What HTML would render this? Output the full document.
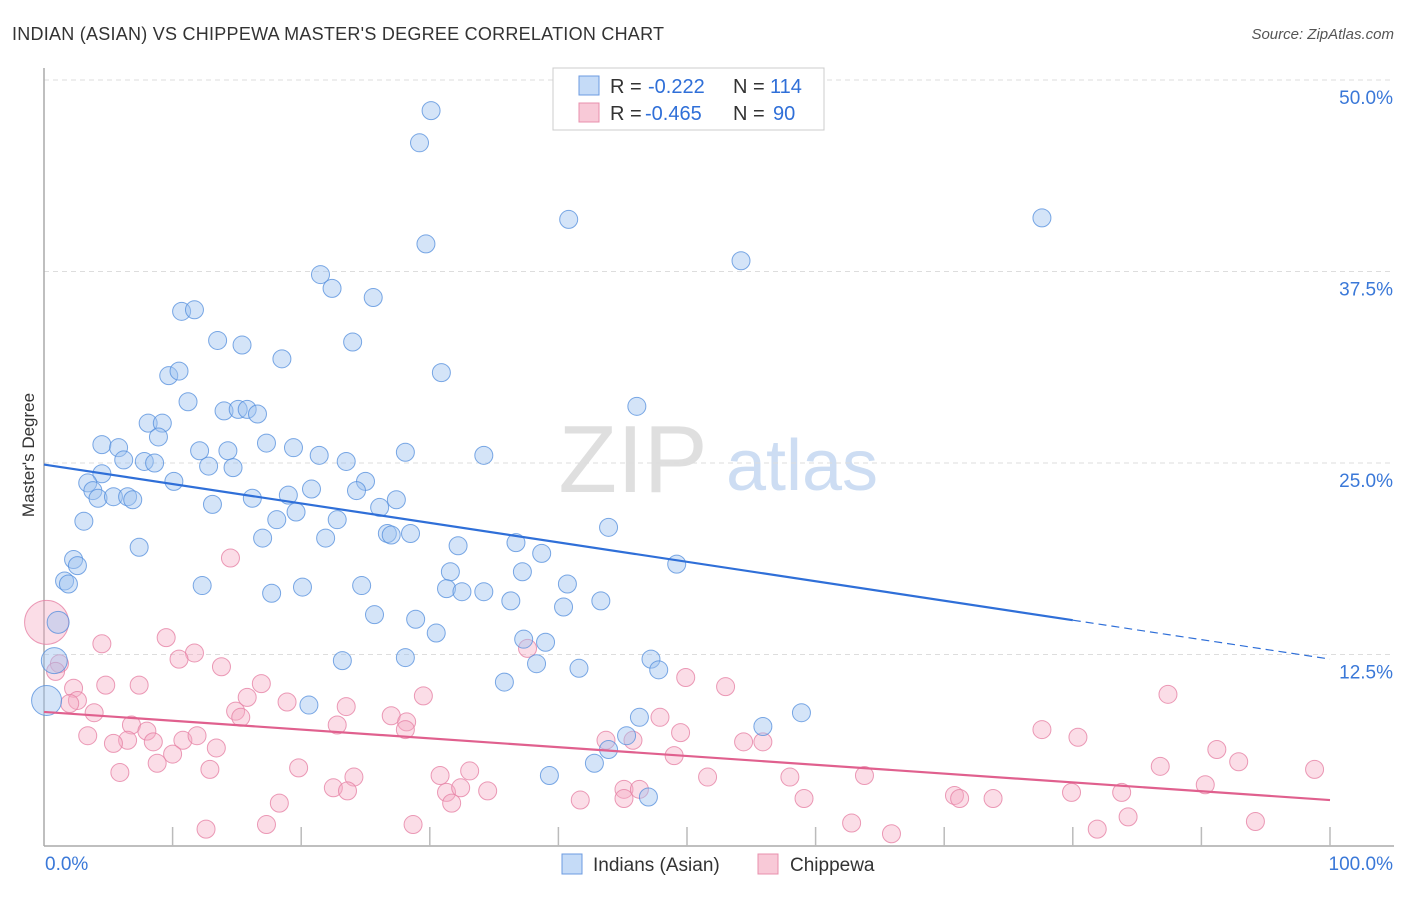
<!DOCTYPE html>
<html><head><meta charset="utf-8"><style>
body{margin:0;background:#fff;font-family:"Liberation Sans",sans-serif;}
svg text{font-family:"Liberation Sans",sans-serif;}
</style></head><body>
<svg id="c" width="1406" height="892" xmlns="http://www.w3.org/2000/svg">
<text x="12" y="40" font-size="18" fill="#333" textLength="652">INDIAN (ASIAN) VS CHIPPEWA MASTER'S DEGREE CORRELATION CHART</text>
<text x="1394" y="39" font-size="15" fill="#555" font-style="italic" text-anchor="end">Source: ZipAtlas.com</text>
<text transform="translate(34,455) rotate(-90)" font-size="17" fill="#333" text-anchor="middle">Master's Degree</text>
<g>
<text x="633" y="492" font-size="96" fill="#d8d8d8" font-family="Liberation Serif" text-anchor="middle" opacity="0.8">ZIP</text>
<text x="802" y="490" font-size="72" fill="#b8d0ee" text-anchor="middle" opacity="0.7">atlas</text>
</g>
<g id="grid"></g><g id="axes"></g><g id="pts"></g><g id="trend"></g>
<g>
<rect x="553" y="68" width="271" height="62" fill="#fff" stroke="#ccc"/>
<rect x="579" y="76" width="20" height="19" fill="#c5dbf7" stroke="#6c9be0"/>
<text x="610" y="93" font-size="20" fill="#333">R =</text>
<text x="648" y="93" font-size="20" fill="#2f6fd8">-0.222</text>
<text x="733" y="93" font-size="20" fill="#333">N =</text>
<text x="770" y="93" font-size="20" fill="#2f6fd8">114</text>
<rect x="579" y="103" width="20" height="19" fill="#f8c9d7" stroke="#e890ac"/>
<text x="610" y="120" font-size="20" fill="#333">R =</text>
<text x="645" y="120" font-size="20" fill="#2f6fd8">-0.465</text>
<text x="733" y="120" font-size="20" fill="#333">N =</text>
<text x="773" y="120" font-size="20" fill="#2f6fd8">90</text>
</g>
<g>
<rect x="562" y="854" width="20" height="20" fill="#c5dbf7" stroke="#6c9be0"/>
<text x="593" y="871" font-size="19" fill="#333">Indians (Asian)</text>
<rect x="758" y="854" width="20" height="20" fill="#f8c9d7" stroke="#e890ac"/>
<text x="790" y="871" font-size="19" fill="#333">Chippewa</text>
</g>
</svg>
<script>
const yTicks=[12.5,25,37.5,50];
const yTickLabels=["12.5%","25.0%","37.5%","50.0%"];
const xTicks=[0,10,20,30,40,50,60,70,80,90,100];
const blueX=[30.1,29.2,40.8,77.6,29.7,54.2,21.5,22.4,25.6,10.7,11.7,13.5,15.4,24.0,18.5,9.7,10.5,30.9,11.2,46.1,14.0,15.1,15.8,16.6,8.1,9.2,8.9,4.5,5.8,17.3,12.1,14.3,19.4,28.1,34.2,21.4,6.2,7.8,8.6,23.5,12.8,14.7,4.5,10.1,25.0,3.4,3.8,20.8,24.3,4.2,5.4,6.5,6.9,16.2,19.0,27.4,13.1,26.1,19.6,3.1,18.1,22.8,43.9,26.7,27.0,28.5,17.0,21.9,32.2,36.7,7.4,38.7,2.3,2.6,49.2,31.6,37.2,1.6,1.9,40.7,12.3,20.1,24.7,31.3,32.5,34.2,17.7,36.3,43.3,40.4,25.7,28.9,1.1,30.5,37.3,39.0,0.8,23.2,28.1,47.2,38.3,41.6,47.8,35.8,0.2,20.6,58.9,46.3,55.9,45.3,43.9,42.8,39.3,47.0];
const blueY=[48.0,45.9,40.9,41.0,39.3,38.2,37.3,36.4,35.8,34.9,35.0,33.0,32.7,32.9,31.8,30.7,31.0,30.9,29.0,28.7,28.4,28.5,28.5,28.2,27.6,27.6,26.7,26.2,26.0,26.3,25.8,25.8,26.0,25.7,25.5,25.5,25.2,25.1,25.0,25.1,24.8,24.7,24.3,23.8,23.8,23.7,23.2,23.3,23.2,22.7,22.8,22.8,22.6,22.7,22.9,22.6,22.3,22.1,21.8,21.2,21.3,21.3,20.8,20.4,20.3,20.4,20.1,20.1,19.6,19.8,19.5,19.1,18.7,18.3,18.4,17.9,17.9,17.3,17.1,17.1,17.0,16.9,17.0,16.8,16.6,16.6,16.5,16.0,16.0,15.6,15.1,14.8,14.6,13.9,13.5,13.3,12.1,12.1,12.3,12.2,11.9,11.6,11.5,10.7,9.5,9.2,8.7,8.4,7.8,7.2,6.3,5.4,4.6,3.2];
const pinkX=[0.2,1.2,0.9,4.5,9.5,14.5,11.7,10.5,13.8,2.3,4.8,7.4,16.9,2.6,2.0,3.9,15.8,18.9,23.5,29.5,49.9,53.0,87.4,37.6,14.9,15.3,27.0,28.2,28.1,22.8,47.9,6.8,8.0,3.4,49.5,77.6,10.8,11.9,6.5,5.4,8.5,43.7,54.4,55.9,80.4,45.8,13.4,10.0,49.0,91.2,92.9,8.8,19.8,12.9,5.9,86.8,98.8,24.1,30.8,33.1,51.6,58.0,63.8,90.3,22.5,23.6,31.3,32.4,34.5,45.1,46.3,79.9,83.8,70.8,71.2,73.8,18.3,31.7,41.7,45.1,59.1,84.3,62.8,94.2,17.3,28.7,12.6,65.9,81.9];
const pinkY=[14.6,11.9,11.4,13.2,13.6,18.8,12.6,12.2,11.7,10.3,10.5,10.5,10.6,9.5,9.3,8.7,9.7,9.4,9.1,9.8,11.0,10.4,9.9,12.9,8.8,8.4,8.5,8.1,7.6,7.9,8.4,7.9,7.5,7.2,7.4,7.6,6.9,7.2,6.9,6.7,6.8,6.9,6.8,6.8,7.1,6.9,6.4,6.0,5.9,6.3,5.5,5.4,5.1,5.0,4.8,5.2,5.0,4.5,4.6,4.9,4.5,4.5,4.6,4.0,3.8,3.6,3.5,3.8,3.6,3.7,3.7,3.5,3.5,3.3,3.1,3.1,2.8,2.8,3.0,3.1,3.1,1.9,1.5,1.6,1.4,1.4,1.1,0.8,1.1];
const blueTrend=[24.9,12.2];
const pinkTrend=[8.75,3.0];
const NS="http://www.w3.org/2000/svg";
const X0=44,X1=1330,YB=846,PX=15.32;
const sx=v=>X0+(X1-X0)*v/100;
const sy=v=>YB-v*PX;
function mk(tag,attrs,parent){const e=document.createElementNS(NS,tag);for(const k in attrs)e.setAttribute(k,attrs[k]);parent.appendChild(e);return e;}
const grid=document.getElementById('grid'),axes=document.getElementById('axes');
yTicks.forEach((t,i)=>{
 const l=mk('line',{x1:44,x2:1394,y1:sy(t),y2:sy(t),stroke:'#ddd','stroke-dasharray':'5,4'},grid);
 
 
 const tx=mk('text',{x:1393,y:sy(t)+24,'font-size':19,fill:'#3a78d8','text-anchor':'end'},grid);
 tx.textContent=yTickLabels[i];
 
 
});
const ya=mk('line',{x1:44,x2:44,y1:68,y2:YB,stroke:'#aaa','stroke-width':1.5},axes);


const xa=mk('line',{x1:44,x2:1394,y1:YB,y2:YB,stroke:'#aaa','stroke-width':1.5},axes);


xTicks.forEach(t=>{if(t===0)return;const k=mk('line',{x1:sx(t),x2:sx(t),y1:YB-19,y2:YB,stroke:'#bbb','stroke-width':1.5},axes);
 
 });
const xl0=mk('text',{x:45,y:870,'font-size':19,fill:'#3a78d8'},axes);xl0.textContent='0.0%';


const xl1=mk('text',{x:1393,y:870,'font-size':19,fill:'#3a78d8','text-anchor':'end'},axes);xl1.textContent='100.0%';


const pts=document.getElementById('pts');
pinkX.forEach((x,i)=>{const r=(i===0)?22:9;
 const c=mk('circle',{cx:sx(x),cy:sy(pinkY[i]),r:r,fill:'rgba(244,170,195,0.4)',stroke:'rgba(230,130,165,0.8)','stroke-width':1},pts);
 
 });
blueX.forEach((x,i)=>{const r=(x<1.2&&blueY[i]<15)?(blueY[i]<10?15:(blueY[i]<13?13:11)):9;
 const c=mk('circle',{cx:sx(x),cy:sy(blueY[i]),r:r,fill:'rgba(160,196,240,0.45)',stroke:'rgba(80,140,220,0.75)','stroke-width':1},pts);
 
 });
const tr=document.getElementById('trend');
const bAt=v=>blueTrend[0]+(blueTrend[1]-blueTrend[0])*v/100;
const b1=mk('line',{x1:sx(0),y1:sy(bAt(0)),x2:sx(80),y2:sy(bAt(80)),stroke:'#2f6fd8','stroke-width':2.2},tr);


const b2=mk('line',{x1:sx(80),y1:sy(bAt(80)),x2:sx(100),y2:sy(bAt(100)),stroke:'#2f6fd8','stroke-width':1.2,'stroke-dasharray':'8,5'},tr);


const p1=mk('line',{x1:sx(0),y1:sy(pinkTrend[0]),x2:sx(100),y2:sy(pinkTrend[1]),stroke:'#e0608e','stroke-width':2.2},tr);


</script>
</body></html>
